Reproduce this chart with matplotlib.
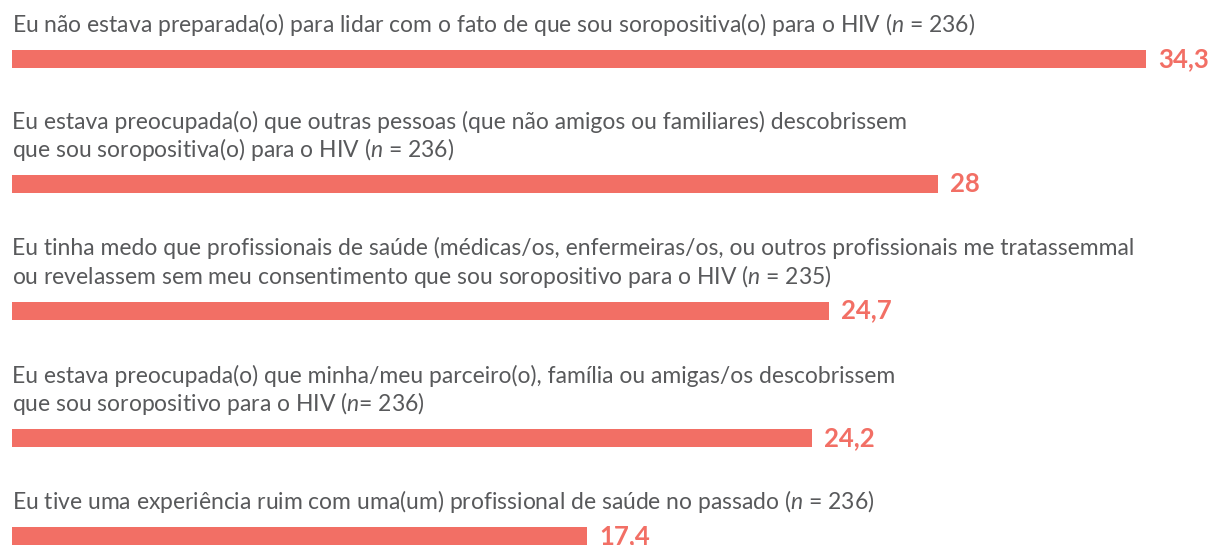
import matplotlib
matplotlib.use("Agg")
import matplotlib.pyplot as plt

# data
labels = [
    "Eu não estava preparada(o) para lidar com o fato de que sou soropositiva(o) para o HIV ($n$ = 236)",
    "Eu estava preocupada(o) que outras pessoas (que não amigos ou familiares) descobrissem\n"
    "que sou soropositiva(o) para o HIV ($n$ = 236)",
    "Eu tinha medo que profissionais de saúde (médicas/os, enfermeiras/os, ou outros profissionais me tratassemmal\n"
    "ou revelassem sem meu consentimento que sou soropositivo para o HIV ($n$ = 235)",
    "Eu estava preocupada(o) que minha/meu parceiro(o), família ou amigas/os descobrissem\n"
    "que sou soropositivo para o HIV ($n$= 236)",
    "Eu tive uma experiência ruim com uma(um) profissional de saúde no passado ($n$ = 236)",
]
values = [34.3, 28, 24.7, 24.2, 17.4]
value_labels = ["34,3", "28", "24,7", "24,2", "17,4"]

# layout (vertical pixel rows of bar centres)
rows = [59, 184, 310.5, 438, 536]
bar_h = 18
px_per_unit = 33.07
left_px = 12

bar_color = "#f26f65"
text_color = "#58595b"

plt.rcParams["font.family"] = ["Lato", "DejaVu Sans"]
plt.rcParams["mathtext.fontset"] = "custom"
plt.rcParams["mathtext.it"] = "Lato:italic"
plt.rcParams["mathtext.rm"] = "Lato"

W, H = 1211, 545
fig = plt.figure(figsize=(W / 100, H / 100), dpi=100)
ax = fig.add_axes([0, 0, 1, 1])
ax.set_xlim(-left_px / px_per_unit, (W - left_px) / px_per_unit)
ax.set_ylim(H, 0)
ax.axis("off")

ax.barh(rows, values, height=bar_h, color=bar_color, left=0)

for y, v, lab, vl in zip(rows, values, labels, value_labels):
    ax.text(0, y - bar_h / 2 - 12, lab, ha="left", va="bottom",
            fontsize=16.5, color=text_color, linespacing=1.15)
    ax.text(v + 12 / px_per_unit, y, vl, ha="left", va="center",
            fontsize=18.5, fontweight="bold", color=bar_color)

fig.savefig("out.png", dpi=100)
